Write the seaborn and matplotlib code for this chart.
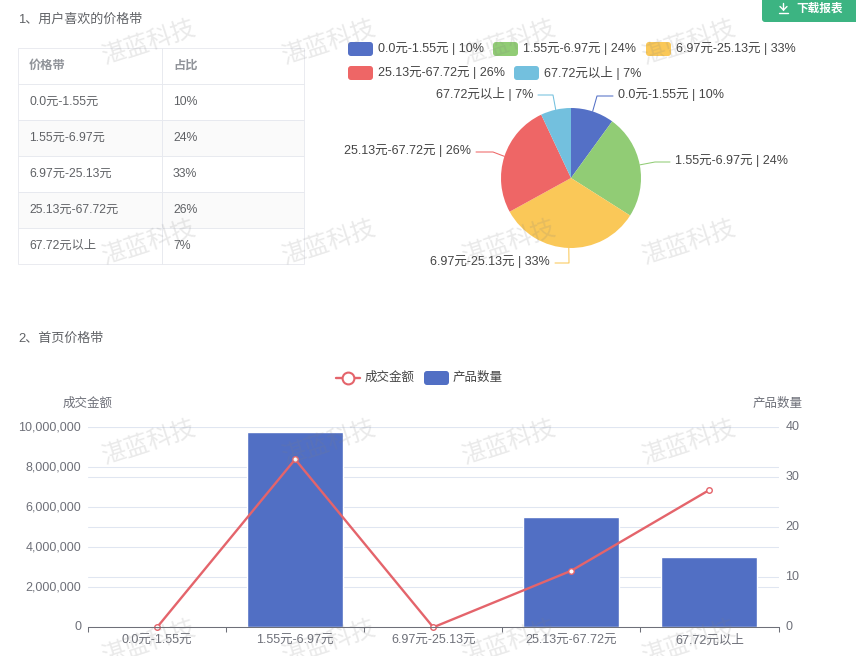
import numpy as np
import pandas as pd
import seaborn as sns
import matplotlib.pyplot as plt
from matplotlib.patches import FancyBboxPatch
from matplotlib.ticker import FuncFormatter
from matplotlib.transforms import ScaledTranslation

# Data
categories = ["0.0元-1.55元", "1.55元-6.97元", "6.97元-25.13元", "25.13元-67.72元", "67.72元以上"]
share = [10, 24, 33, 26, 7]
amount = [0, 8400000, 0, 2830000, 6870000]
products = [0, 39, 0, 22, 14]
left_ticks = [0, 2000000, 4000000, 6000000, 8000000, 10000000]
right_ticks = [0, 10, 20, 30, 40]
colors = ["#5470c6", "#91cc75", "#fac858", "#ee6666", "#73c0de"]

W, H = 856, 656
TEXT = "#606266"
AXIS = "#6e7079"
GRID = "#e0e6f1"
BLUE = "#516fc4"
RED = "#e4646b"
FS = 9

sns.set_theme(style="white")
plt.rcParams["font.family"] = ["Liberation Sans", "Noto Sans CJK SC", "DejaVu Sans"]
plt.rcParams["font.size"] = FS

fig = plt.figure(figsize=(W / 100, H / 100), dpi=100, facecolor="white")


def px_axes(x0, y0, x1, y1, **kw):
    # axes from pixel box, y counted from the top of the image
    return fig.add_axes([x0 / W, 1 - y1 / H, (x1 - x0) / W, (y1 - y0) / H], **kw)


# bottom chart: grid + left scale
ax = px_axes(88, 427.3, 778.5, 627.3)
ax.set_xlim(-0.5, 4.5)
ax.set_ylim(0, 10000000)
ax.set_yticks(left_ticks)
ax.yaxis.set_major_formatter(FuncFormatter(lambda v, _: f"{int(v):,}"))
ax.grid(axis="y", color=GRID, linewidth=0.75)
ax.tick_params(axis="y", length=0, pad=5, labelsize=FS, labelcolor=AXIS)

# bars on the right scale
ax_bar = ax.twinx()
df = pd.DataFrame({"band": categories, "products": products, "amount": amount, "pos": range(5)})
sns.barplot(data=df, x="band", y="products", color=BLUE, saturation=1, width=0.695, ax=ax_bar)
ax_bar.set_ylim(0, 40)
ax_bar.set_yticks(right_ticks)
ax_bar.set_xlabel("")
ax_bar.set_ylabel("")
ax_bar.set_axisbelow(True)
ax_bar.grid(axis="y", color=GRID, linewidth=0.75)
ax_bar.tick_params(axis="y", length=0, pad=5, labelsize=FS, labelcolor=AXIS)
ax_bar.patch.set_visible(False)

# line on top, same scale as the left axis
ax_line = ax.twinx()
sns.lineplot(data=df, x="pos", y="amount", color=RED, linewidth=1.7, marker="o", markersize=4,
             markerfacecolor="white", markeredgecolor=RED, markeredgewidth=1,
             clip_on=False, ax=ax_line)
ax_line.set_ylim(0, 10000000)
ax_line.yaxis.set_visible(False)
ax_line.set_xlabel("")
ax_line.patch.set_visible(False)

# x axis lives on the host axes, all twins share it
ax.set_xlim(-0.5, 4.5)
ax.set_xticks(range(5), categories)
ax.set_xticks(np.arange(-0.5, 5), minor=True)
ax.tick_params(axis="x", which="major", length=0, pad=9.4, labelsize=FS, labelcolor=AXIS, bottom=False)
ax.tick_params(axis="x", which="minor", length=3.6, width=0.75, color=AXIS, bottom=True)
for lab in ax.get_xticklabels():
    lab.set_va("center")

# tick labels sit slightly above their grid lines
lift = ScaledTranslation(0, 1.2 / 72, fig.dpi_scale_trans)
for a in (ax, ax_bar):
    for lab in a.get_yticklabels():
        lab.set_transform(lab.get_transform() + lift)

for a in (ax, ax_bar, ax_line):
    for side in ("top", "left", "right", "bottom"):
        a.spines[side].set_visible(False)
ax_line.spines["bottom"].set_visible(True)
ax_line.spines["bottom"].set_color(AXIS)
ax_line.spines["bottom"].set_linewidth(0.75)

# pie
ax_pie = px_axes(491, 98, 651, 258)
wedges, _ = ax_pie.pie(share, colors=colors, startangle=90, counterclock=False, radius=70 / 80,
                       wedgeprops={"linewidth": 0})
ax_pie.set_xlim(-1, 1)
ax_pie.set_ylim(-1, 1)

# table
ax_tab = px_axes(18, 48, 304, 264)
cells = [[c, f"{s}%"] for c, s in zip(categories, share)]
tab = ax_tab.table(cellText=[["价格带", "占比"]] + cells, colWidths=[144 / 286, 142 / 286],
                   bbox=[0, 0, 1, 1], cellLoc="left")
tab.auto_set_font_size(False)
tab.set_fontsize(8.8)
for (r, c), cell in tab.get_celld().items():
    cell.set_edgecolor("#e6e8ee")
    cell.set_linewidth(0.6)
    cell.PAD = 11 / (144 if c == 0 else 142)
    cell.set_text_props(color="#909399" if r == 0 else TEXT, fontweight="bold" if r == 0 else "normal")
    cell.set_facecolor("#fafafa" if r in (2, 4) else "white")
ax_tab.axis("off")

# overlay in image pixels for legends, names and watermark
ov = fig.add_axes([0, 0, 1, 1], zorder=20)
ov.set_xlim(0, W)
ov.set_ylim(H, 0)
ov.axis("off")
ov.patch.set_visible(False)

ov.text(18, 20, "1、用户喜欢的价格带", color=TEXT, fontsize=9.4, va="center")
ov.text(18, 339, "2、首页价格带", color=TEXT, fontsize=9.4, va="center")
ov.text(88, 404, "成交金额", color=AXIS, fontsize=FS, ha="center", va="center")
ov.text(778, 404, "产品数量", color=AXIS, fontsize=FS, ha="center", va="center")


def swatch(x, y, color):
    ov.add_patch(FancyBboxPatch((x, y - 7), 25, 14, boxstyle="round,pad=0,rounding_size=3",
                                mutation_aspect=1, fc=color, ec="none"))


# pie legend
legend_pos = [(348, 49), (493, 49), (646, 49), (348, 73), (514, 73)]
for (x, y), cat, s, col in zip(legend_pos, categories, share, colors):
    swatch(x, y, col)
    ov.text(x + 30, y, f"{cat} | {s}%", color="#444444", fontsize=FS, va="center")

# pie labels with leader lines: elbow and end of each line, then label side
pie_leaders = [
    ((597, 96), (613, 96), "left"),
    ((655, 162), (670, 162), "left"),
    ((569, 263), (555, 263), "right"),
    ((493, 152), (476, 152), "right"),
    ((553, 95), (538, 95), "right"),
]
cum = np.cumsum([0] + share)
for i, (elbow, end, side) in enumerate(pie_leaders):
    mid = np.deg2rad((cum[i] + cum[i + 1]) / 2 * 3.6)
    start = (571 + 70 * np.sin(mid), 178 - 70 * np.cos(mid))
    ov.plot([start[0], elbow[0], end[0]], [start[1], elbow[1], end[1]], color=colors[i], lw=0.75)
    off = 5 if side == "left" else -5
    ov.text(end[0] + off, end[1] - 1, f"{categories[i]} | {share[i]}%", color="#444444", fontsize=FS,
            ha=side, va="center")

# bottom legend
ov.plot([336, 360], [378, 378], color=RED, lw=1.7)
ov.plot([348], [378], "o", ms=8.5, mfc="white", mec=RED, mew=1.5)
ov.text(365, 378, "成交金额", color="#444444", fontsize=FS, va="center")
swatch(424, 378, BLUE)
ov.text(453, 378, "产品数量", color="#444444", fontsize=FS, va="center")

# download button
ov.add_patch(FancyBboxPatch((762, -8), 110, 30, boxstyle="round,pad=0,rounding_size=3",
                            fc="#3cb482", ec="none", clip_on=True))
ov.plot([783.5, 783.5], [3, 9.5], color="white", lw=1)
ov.plot([780, 783.5, 787], [6.5, 10, 6.5], color="white", lw=1)
ov.plot([779, 788], [12.5, 12.5], color="white", lw=1)
ov.text(819.5, 8.5, "下载报表", color="white", fontsize=8.4, fontweight="bold", ha="center", va="center")

# watermark tiles
for wy in (43, 243, 443, 643):
    for wx in (149, 329, 509, 689):
        ov.text(wx, wy, "湛蓝科技", color="#808080", alpha=0.17, fontsize=17.5, rotation=18,
                ha="center", va="center", rotation_mode="anchor", clip_on=True)

fig.savefig("out.png", dpi=100)
